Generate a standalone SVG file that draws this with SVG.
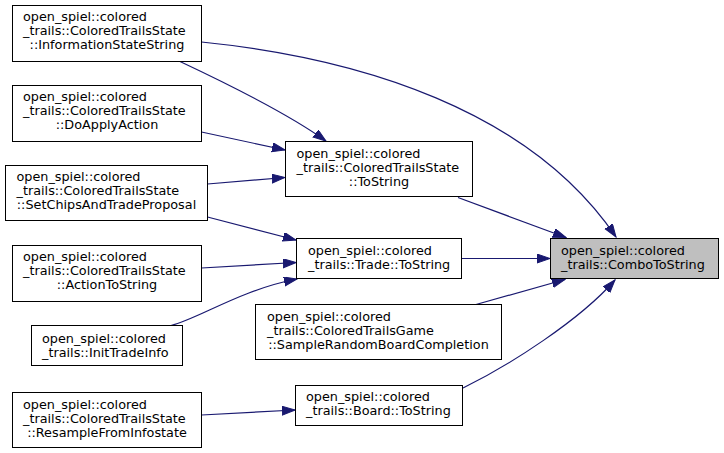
<svg xmlns="http://www.w3.org/2000/svg" width="724" height="453" viewBox="0 0 724 453">
<defs>
<style>
.n rect{fill:#fff;stroke:#000;stroke-width:1}
.n.h rect{fill:#bfbfbf}
.n text{font-family:"DejaVu Sans",Verdana,sans-serif;font-size:12.8px;fill:#000}
.n text.c{text-anchor:middle}
.e path{fill:none;stroke:#191970;stroke-width:1.2;marker-end:url(#ah)}
</style>
<marker id="ah" markerUnits="userSpaceOnUse" markerWidth="14" markerHeight="10" refX="13" refY="4.5" orient="auto" viewBox="0 0 14 10">
<path d="M0,0 L13,4.5 L0,9 Z" fill="#191970" stroke="#191970" stroke-width="1"/>
</marker>
</defs>
<rect width="724" height="453" fill="#fff"/>
<g id="edges" class="e">
<path d="M201.5,42 C360,58 530,110 616,237"/>
<path d="M180,61.5 C230,85 290,115 326,141"/>
<path d="M201.5,132 L285,150"/>
<path d="M207.5,184 L285,177.5"/>
<path d="M207.5,217 L296,240"/>
<path d="M201.5,268 L296,262.5"/>
<path d="M171,325.5 C200,318 240,290 297,279"/>
<path d="M458,197.5 L566,237.5"/>
<path d="M462,258.5 L550,258.5"/>
<path d="M476,304.5 L565,279.5"/>
<path d="M463,388 C510,365 580,320 615,280"/>
<path d="M201.5,415 L295,410"/>
</g>
<g id="n1" class="n"><rect x="12.5" y="5.5" width="189" height="56"/><text x="23" y="20.5">open_spiel::colored</text><text x="23" y="34.5">_trails::ColoredTrailsState</text><text class="c" x="107" y="48.5">::InformationStateString</text></g>
<g id="n2" class="n"><rect x="12.5" y="85.5" width="189" height="56"/><text x="23" y="100.5">open_spiel::colored</text><text x="23" y="114.5">_trails::ColoredTrailsState</text><text class="c" x="107" y="128.5">::DoApplyAction</text></g>
<g id="n3" class="n"><rect x="5.5" y="165.5" width="202" height="55"/><text x="16.5" y="181">open_spiel::colored</text><text x="16.5" y="195">_trails::ColoredTrailsState</text><text class="c" x="106.5" y="209">::SetChipsAndTradeProposal</text></g>
<g id="n4" class="n"><rect x="12.5" y="245.5" width="189" height="56"/><text x="23" y="261">open_spiel::colored</text><text x="23" y="275">_trails::ColoredTrailsState</text><text class="c" x="107" y="289">::ActionToString</text></g>
<g id="n5" class="n"><rect x="31.5" y="325.5" width="151" height="40"/><text x="42" y="342.5">open_spiel::colored</text><text x="42" y="356.5">_trails::InitTradeInfo</text></g>
<g id="n6" class="n"><rect x="12.5" y="392.5" width="189" height="55"/><text x="23" y="408.5">open_spiel::colored</text><text x="23" y="422.5">_trails::ColoredTrailsState</text><text class="c" x="107" y="436.5">::ResampleFromInfostate</text></g>
<g id="n7" class="n"><rect x="285.5" y="141.5" width="187" height="55"/><text x="296.5" y="157.5">open_spiel::colored</text><text x="296.5" y="171.5">_trails::ColoredTrailsState</text><text class="c" x="379" y="185.5">::ToString</text></g>
<g id="n8" class="n"><rect x="296.5" y="238.5" width="165" height="40"/><text x="308" y="255">open_spiel::colored</text><text x="308" y="269">_trails::Trade::ToString</text></g>
<g id="n9" class="n"><rect x="255.5" y="304.5" width="246" height="55"/><text x="267" y="320.5">open_spiel::colored</text><text x="267" y="334.5">_trails::ColoredTrailsGame</text><text class="c" x="378.5" y="348.5">::SampleRandomBoardCompletion</text></g>
<g id="n10" class="n"><rect x="295.5" y="385.5" width="167" height="40"/><text x="306" y="400.5">open_spiel::colored</text><text x="306" y="414.5">_trails::Board::ToString</text></g>
<g id="n11" class="n h"><rect x="550.5" y="238.5" width="168" height="40"/><text x="561" y="255">open_spiel::colored</text><text x="561" y="269">_trails::ComboToString</text></g>
</svg>
